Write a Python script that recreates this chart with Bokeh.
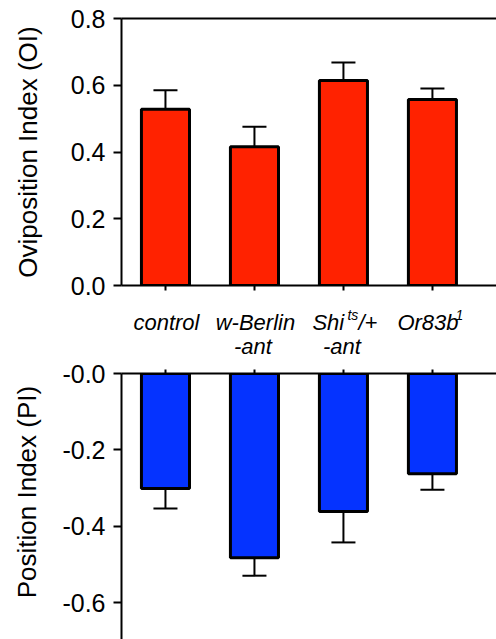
import math
from bokeh.plotting import figure
from bokeh.layouts import column
from bokeh.models import (Range1d, FixedTicker, LinearAxis,
                          CustomJSTickFormatter, ColumnDataSource)
from bokeh.core.properties import value
from bokeh.embed import file_html
from bokeh.resources import INLINE

# ---------------- data ----------------
categories = ["control", "w-Berlin", "Shi", "Or83b"]
cat_line2 = ["", "-ant", "-ant", ""]
cat_super = ["", "", "ts", "1"]
cat_suffix = ["", "", "/+", ""]

oi_values = [0.528, 0.416, 0.614, 0.557]
oi_errors = [0.057, 0.060, 0.054, 0.033]

pi_values = [-0.301, -0.482, -0.361, -0.262]
pi_errors = [0.052, 0.047, 0.081, 0.042]

oi_ticks = [0.0, 0.2, 0.4, 0.6, 0.8]
pi_ticks = [0.0, -0.2, -0.4, -0.6]

# ---------------- style ----------------
FONT = "Liberation Sans"
RED = "#FF2200"
BLUE = "#0533FF"
BAR_W = 0.54
CAP = 0.135
xs = list(range(len(categories)))
X_RANGE = (-0.494, 3.72)
W = 496
LEFT = 121


def style_y(ax, ticks):
    ax.ticker = FixedTicker(ticks=ticks)
    ax.minor_tick_line_color = None
    ax.major_tick_in = 0
    ax.major_tick_out = 8
    ax.major_tick_line_width = 2
    ax.major_tick_line_color = "black"
    ax.axis_line_width = 2
    ax.axis_line_color = "black"
    ax.major_label_text_font = FONT
    ax.major_label_text_font_size = "25px"
    ax.major_label_text_color = "black"
    ax.major_label_standoff = 8
    ax.axis_label_text_font = FONT
    ax.axis_label_text_font_size = "26px"
    ax.axis_label_text_font_style = "normal"
    ax.axis_label_text_color = "black"


def style_x(ax, tick_out):
    ax.ticker = FixedTicker(ticks=xs)
    ax.minor_tick_line_color = None
    ax.major_tick_in = 0
    ax.major_tick_out = tick_out
    ax.major_tick_line_width = 2
    ax.major_tick_line_color = "black"
    ax.axis_line_width = 2
    ax.axis_line_color = "black"
    ax.formatter = CustomJSTickFormatter(code="return '';")
    ax.major_label_text_font_size = "1px"
    ax.major_label_standoff = 0


def error_bars(p, vals, errs, sign):
    ends = [v + sign * e for v, e in zip(vals, errs)]
    src = ColumnDataSource(dict(x=xs, v=vals, e=ends,
                                xl=[x - CAP for x in xs],
                                xr=[x + CAP for x in xs]))
    p.segment(x0="x", y0="v", x1="x", y1="e", source=src,
              line_color="black", line_width=2)
    p.segment(x0="xl", y0="e", x1="xr", y1="e", source=src,
              line_color="black", line_width=2)


def clean(p):
    p.grid.visible = False
    p.outline_line_color = None
    p.background_fill_color = "white"
    p.border_fill_color = "white"


# ---------------- top panel ----------------
p1 = figure(width=W, height=300, output_backend="svg", toolbar_location=None,
            x_range=Range1d(*X_RANGE), y_range=Range1d(0, 0.8),
            min_border_left=LEFT, min_border_right=0, min_border_top=18,
            min_border_bottom=15)
clean(p1)
style_y(p1.yaxis[0], oi_ticks)
p1.yaxis[0].formatter = CustomJSTickFormatter(code="return tick.toFixed(1);")
p1.yaxis[0].axis_label = "Oviposition Index (OI)"
p1.yaxis[0].axis_label_standoff = 25
style_x(p1.xaxis[0], 5)

top_line = LinearAxis(ticker=FixedTicker(ticks=[]), axis_line_width=2,
                      axis_line_color="black", major_tick_line_color=None,
                      minor_tick_line_color=None, major_label_standoff=0)
p1.add_layout(top_line, "above")

error_bars(p1, oi_values, oi_errors, +1)
p1.vbar(x=xs, top=oi_values, bottom=0, width=BAR_W, fill_color=RED,
        line_color="black", line_width=3)

# ---------------- category label strip ----------------
MID_H = 58
pm = figure(width=W, height=MID_H, output_backend="svg", toolbar_location=None,
            x_range=Range1d(*X_RANGE), y_range=Range1d(0, MID_H),
            x_axis_type=None, y_axis_type=None,
            min_border_left=LEFT, min_border_right=0, min_border_top=0,
            min_border_bottom=0)
clean(pm)

ROW1 = 36.3   # baseline of first text line (px above strip bottom)
ROW2 = 12.0   # baseline of second line
ROWS = 44.0   # baseline of superscripts
tkw = dict(text_font=value(FONT), text_font_style="italic",
           text_color="black", text_baseline="alphabetic")

plain = [i for i in xs if not cat_super[i]]
pm.text(x=plain, y=[ROW1] * len(plain), text=[categories[i] for i in plain],
        text_align="center", x_offset=1, text_font_size="22px", **tkw)

sup = [i for i in xs if cat_super[i]]
main_off = {2: -31, 3: -35}
sup_off = {2: 4, 3: 23}
for i in sup:
    pm.text(x=[i], y=[ROW1], text=[categories[i]], text_align="left",
            x_offset=main_off[i], text_font_size="22px", **tkw)
    pm.text(x=[i], y=[ROWS], text=[cat_super[i]], text_align="left",
            x_offset=sup_off[i], text_font_size="14px", **tkw)
    if cat_suffix[i]:
        pm.text(x=[i], y=[ROW1], text=[cat_suffix[i]], text_align="left",
                x_offset=15, text_font_size="22px", **tkw)

two = [i for i in xs if cat_line2[i]]
pm.text(x=two, y=[ROW2] * len(two), text=[cat_line2[i] for i in two],
        text_align="center", x_offset=-1.5, text_font_size="22px", **tkw)

# ---------------- bottom panel ----------------
p2 = figure(width=W, height=281, output_backend="svg", toolbar_location=None,
            x_range=Range1d(*X_RANGE), y_range=Range1d(-0.696, 0),
            x_axis_location="above",
            min_border_left=LEFT, min_border_right=0, min_border_top=15,
            min_border_bottom=0)
clean(p2)
style_y(p2.yaxis[0], pi_ticks)
p2.yaxis[0].formatter = CustomJSTickFormatter(
    code="return (tick <= 0 ? '-' : '') + Math.abs(tick).toFixed(1);")
p2.yaxis[0].axis_label = "\u00a0\u00a0\u00a0\u00a0Position Index (PI)"
p2.yaxis[0].axis_label_standoff = 17
style_x(p2.xaxis[0], 4)

error_bars(p2, pi_values, pi_errors, -1)
p2.vbar(x=xs, top=0, bottom=pi_values, width=BAR_W, fill_color=BLUE,
        line_color="black", line_width=3)

layout = column(p1, pm, p2, spacing=0)
open("out.html", "w").write(file_html(layout, INLINE))
